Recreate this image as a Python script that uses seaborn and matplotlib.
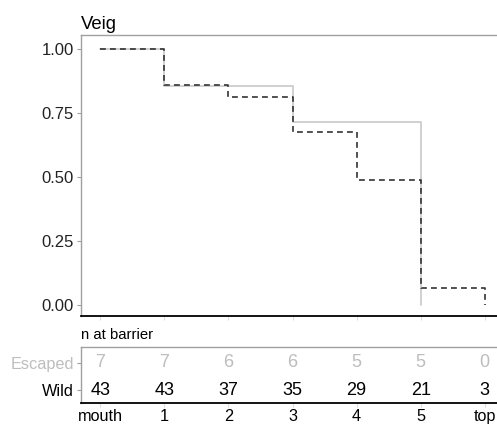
import numpy as np
import pandas as pd
import matplotlib
matplotlib.use("Agg")
import matplotlib.pyplot as plt
import seaborn as sns

# Barrier positions along the river and fish counts reaching each barrier
barriers = ["mouth", "1", "2", "3", "4", "5", "top"]
n_escaped = [7, 7, 6, 6, 5, 5, 0]
n_wild = [43, 43, 37, 35, 29, 21, 3]
groups = ["Escaped", "Wild"]
title = "Veig"

sns.set_theme(style="white")
plt.rcParams["font.family"] = ["Liberation Sans", "DejaVu Sans"]

GREY_LINE = "#c8c8c8"
GREY_TEXT = "#bdbdbd"
WILD_COL = "#333333"
FRAME = "#a0a0a0"


def survival(counts):
    """Proportion passing each barrier, as a step curve ending at zero."""
    counts = np.asarray(counts, dtype=float)
    prop = list(counts[1:] / counts[0]) + [0.0]
    out = []
    for v in prop:
        out.append(v)
        if v == 0:
            break
    return out


rows = []
for grp, counts in zip(groups, [n_escaped, n_wild]):
    for i, v in enumerate(survival(counts)):
        rows.append({"group": grp, "pos": i, "prop": v})
curves = pd.DataFrame(rows)

W, H = 497, 426
fig = plt.figure(figsize=(W / 100, H / 100), dpi=100)


def box(left, top, right, bottom):
    return [left / W, (H - bottom) / H, (right - left) / W, (bottom - top) / H]


ax = fig.add_axes(box(81, 35, 504, 316))
tab = fig.add_axes(box(81, 347, 504, 403))

xpos = np.arange(len(barriers))

# Survival curves
sns.lineplot(data=curves[curves.group == "Escaped"], x="pos", y="prop",
             drawstyle="steps-post", color=GREY_LINE, lw=1.2, ax=ax,
             legend=False, estimator=None)
sns.lineplot(data=curves[curves.group == "Wild"], x="pos", y="prop",
             drawstyle="steps-post", color=WILD_COL, lw=1.2, ax=ax,
             legend=False, estimator=None, dashes=False)
ax.lines[-1].set_linestyle((0, (3.5, 2.5)))

ax.set_xlim(-0.3, 6.3)
ax.set_ylim(-0.041, 1.054)
ax.set_yticks([0, 0.25, 0.5, 0.75, 1.0])
ax.set_yticklabels(["0.00", "0.25", "0.50", "0.75", "1.00"])
ax.set_xticks(xpos)
ax.set_xticklabels([])
ax.set_xlabel("")
ax.set_ylabel("")
ax.tick_params(axis="y", length=3, width=0.8, color=FRAME, labelsize=12,
               labelcolor="#222222", pad=2, left=True)
ax.tick_params(axis="x", length=3, width=0.8, color="#dddddd", bottom=True)
ax.set_title(title, loc="left", fontsize=13.3, pad=4, color="black")

for a in (ax, tab):
    for s in ("left", "top", "right"):
        a.spines[s].set_color(FRAME)
        a.spines[s].set_linewidth(1.0)
    a.spines["bottom"].set_color("black")
    a.spines["bottom"].set_linewidth(1.3)

# Risk table: number of fish at each barrier
tab.set_xlim(-0.3, 6.3)
tab.set_ylim(-0.48, 1.59)
for row_y, counts, col in [(1, n_escaped, GREY_TEXT), (0, n_wild, "black")]:
    for x, n in zip(xpos, counts):
        tab.text(x, row_y, str(n), ha="center", va="center", fontsize=13,
                 color=col)
tab.set_yticks([1, 0])
tab.set_yticklabels(groups, fontsize=11.7)
for lbl, col in zip(tab.get_yticklabels(), [GREY_TEXT, "black"]):
    lbl.set_color(col)
tab.set_xticks(xpos)
tab.set_xticklabels(barriers, fontsize=11.7)
tab.tick_params(axis="y", length=3, width=0.8, color=FRAME, pad=2, left=True)
tab.tick_params(axis="x", length=3, width=0.8, color="#dddddd", pad=1,
                bottom=True, labelcolor="black")
fig.text(81 / W, 1 - 335 / H, "n at barrier", ha="left", va="center",
         fontsize=10.7, color="black")

fig.savefig("out.png", dpi=100)
